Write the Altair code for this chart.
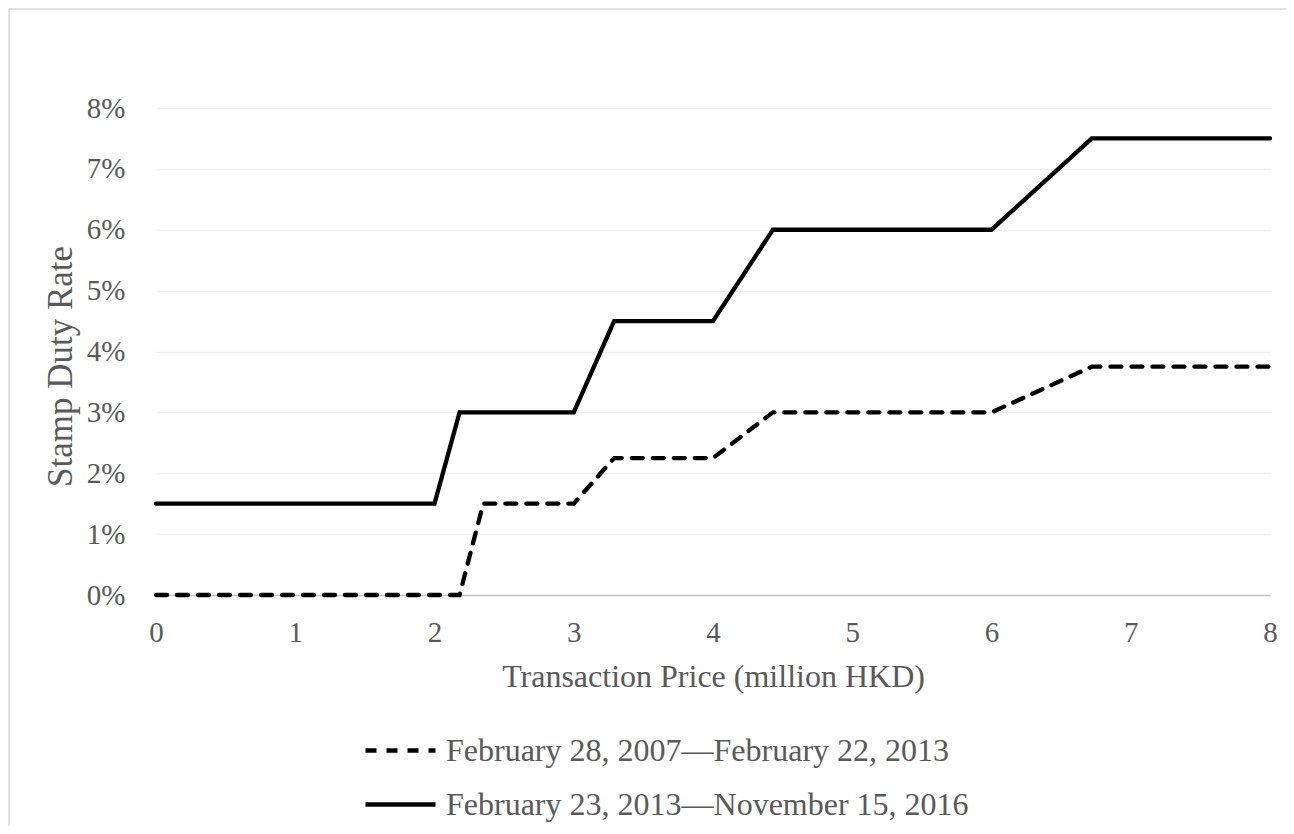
import altair as alt
import pandas as pd

# Transaction price (million HKD) sample points
price = [0, 2, 2.18, 2.35, 3, 3.29, 4, 4.43, 6, 6.72, 8]
# Stamp duty rate (%) for each period
rate_2007 = [0, 0, 0, 1.5, 1.5, 2.25, 2.25, 3, 3, 3.75, 3.75]
rate_2013 = [1.5, 1.5, 3, 3, 3, 4.5, 4.5, 6, 6, 7.5, 7.5]
series_names = ["February 28, 2007\u2014February 22, 2013",
                "February 23, 2013\u2014November 15, 2016"]
y_ticks = [0, 0.01, 0.02, 0.03, 0.04, 0.05, 0.06, 0.07, 0.08]
x_ticks = [0, 1, 2, 3, 4, 5, 6, 7, 8]

rows = []
for i, p in enumerate(price):
    rows.append({"price": p, "rate": rate_2007[i] / 100, "series": series_names[0], "order": i})
for i, p in enumerate(price):
    rows.append({"price": p, "rate": rate_2013[i] / 100, "series": series_names[1], "order": i})
df = pd.DataFrame(rows)

FONT = "Liberation Serif"
GREY = "#595959"

lines = alt.Chart(df).mark_line(strokeWidth=4.3, strokeCap="round", strokeJoin="miter").encode(
    x=alt.X("price:Q",
            scale=alt.Scale(domain=[0, 8], nice=False, zero=False),
            axis=alt.Axis(values=x_ticks, title="Transaction Price (million HKD)",
                          grid=False, ticks=False, domain=True,
                          domainColor="#c6c6c6", domainWidth=1.5,
                          labelFlush=False, labelFontSize=29, titleFontSize=32,
                          labelPadding=23, titlePadding=14, format="d")),
    y=alt.Y("rate:Q",
            scale=alt.Scale(domain=[0, 0.08], nice=False),
            axis=alt.Axis(values=y_ticks, format=".0%", title="Stamp Duty Rate",
                          grid=True, gridColor="#eeeeee", gridWidth=1.5,
                          ticks=False, domain=False,
                          labelFontSize=29, titleFontSize=35,
                          labelPadding=31, titlePadding=8, titleY=258)),
    color=alt.value("black"),
    strokeDash=alt.StrokeDash("series:N",
                              scale=alt.Scale(domain=series_names, range=[[11, 10], [1, 0]]),
                              legend=alt.Legend(title=None, orient="none",
                                                legendX=207, legendY=605,
                                                direction="vertical",
                                                symbolType="stroke", symbolSize=4900,
                                                symbolStrokeWidth=4.3, symbolStrokeColor="black",
                                                rowPadding=-21, labelOffset=8, padding=0,
                                                labelFont=FONT, labelFontSize=32,
                                                labelColor=GREY, labelLimit=900)),
    order="order:Q",
)

frame = alt.Chart(pd.DataFrame({"f": [0]})).mark_rect(
    fill=None, stroke="#d9d9d9", strokeWidth=1.5
).encode(
    x=alt.value(-147), x2=alt.value(1131),
    y=alt.value(-99), y2=alt.value(740)
)

chart = alt.layer(frame, lines).properties(
    width=1114,
    height=487,
    autosize=alt.AutoSizeParams(type="none"),
    padding={"left": 148, "top": 100, "right": 16, "bottom": 231},
).configure_view(
    stroke=None
).configure_axis(
    labelFont=FONT, titleFont=FONT,
    labelColor=GREY, titleColor=GREY, titleFontWeight="normal"
)

chart.save("out.html", embed_options={"renderer": "svg", "actions": False})
